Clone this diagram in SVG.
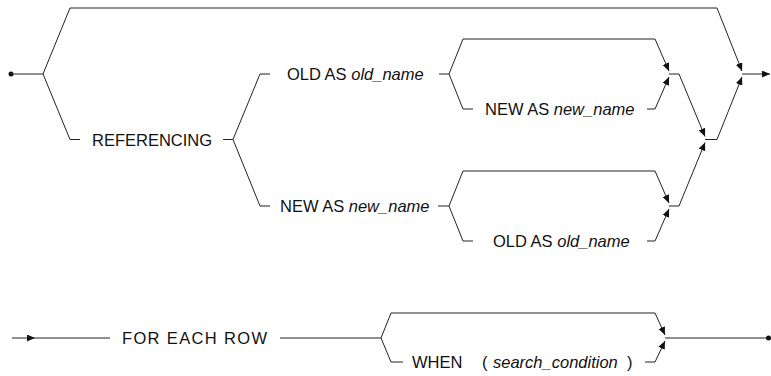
<svg xmlns="http://www.w3.org/2000/svg" width="771" height="376" viewBox="0 0 771 376">
<style>
  .ln{fill:none;stroke:#222;stroke-width:1}
  .t{font-family:"Liberation Sans",Arial,sans-serif;font-size:16.5px;fill:#111}
  .i{font-style:italic}
</style>
<defs>
  <marker id="ah" markerUnits="userSpaceOnUse" markerWidth="8" markerHeight="7" refX="8" refY="3.5" orient="auto">
    <path d="M0,0 L8,3.5 L0,7 z" fill="#111"/>
  </marker>
</defs>
<rect width="771" height="376" fill="#fff"/>

<g id="connectors" class="ln">
  <!-- start -->
  <circle cx="11" cy="74" r="2.5" fill="#111" stroke="none"/>
  <path d="M11,74 H43"/>
  <!-- outer branch -->
  <path d="M43,74 L70,8 H717 L742,71" marker-end="url(#ah)"/>
  <path d="M43,74 L70,139.5 H80"/>
  <!-- REFERENCING split -->
  <path d="M223,139.5 H233 M233,139.5 L260,74 H270 M233,139.5 L260,206 H270"/>
  <!-- upper inner group -->
  <path d="M439,74 H449 M449,74 L463,39 H655 L669,71" marker-end="url(#ah)"/>
  <path d="M449,74 L463,109 H473"/>
  <path d="M647,109 H655 L669,77" marker-end="url(#ah)"/>
  <path d="M669,74 H679 L705,136.5" marker-end="url(#ah)"/>
  <!-- lower inner group -->
  <path d="M438,206 H449 M449,206 L463,171 H655 L669,203" marker-end="url(#ah)"/>
  <path d="M449,206 L463,241 H473"/>
  <path d="M647,241 H655 L669,209" marker-end="url(#ah)"/>
  <path d="M669,206 H679 L705,142.5" marker-end="url(#ah)"/>
  <!-- middle junction -->
  <path d="M705,139.5 H717 L742,77" marker-end="url(#ah)"/>
  <!-- output -->
  <path d="M742,74 H770" marker-end="url(#ah)"/>

  <!-- bottom row -->
  <path d="M12,338 H35" marker-end="url(#ah)"/>
  <path d="M35,338 H110"/>
  <path d="M280,338 H381"/>
  <path d="M381,338 L391,313 H655 L665,335" marker-end="url(#ah)"/>
  <path d="M381,338 L391,362 H403"/>
  <path d="M645,362 H655 L665,341" marker-end="url(#ah)"/>
  <path d="M665,338 H768"/>
  <circle cx="768.5" cy="338" r="2.5" fill="#111" stroke="none"/>
</g>

<g id="n-referencing"><text class="t" x="92" y="145.5">REFERENCING</text></g>
<g id="n-old-as-1"><text class="t" x="287" y="79.5">OLD AS <tspan class="i">old_name</tspan></text></g>
<g id="n-new-as-1"><text class="t" x="485" y="115">NEW AS <tspan class="i">new_name</tspan></text></g>
<g id="n-new-as-2"><text class="t" x="280" y="212">NEW AS <tspan class="i">new_name</tspan></text></g>
<g id="n-old-as-2"><text class="t" x="493" y="247">OLD AS <tspan class="i">old_name</tspan></text></g>
<g id="n-for-each-row"><text class="t" x="122" y="344" textLength="145" lengthAdjust="spacing">FOR EACH ROW</text></g>
<g id="n-when"><text class="t" y="368"><tspan x="412">WHEN</tspan><tspan x="482">(</tspan><tspan x="493" class="i">search_condition</tspan><tspan x="627">)</tspan></text></g>
</svg>
